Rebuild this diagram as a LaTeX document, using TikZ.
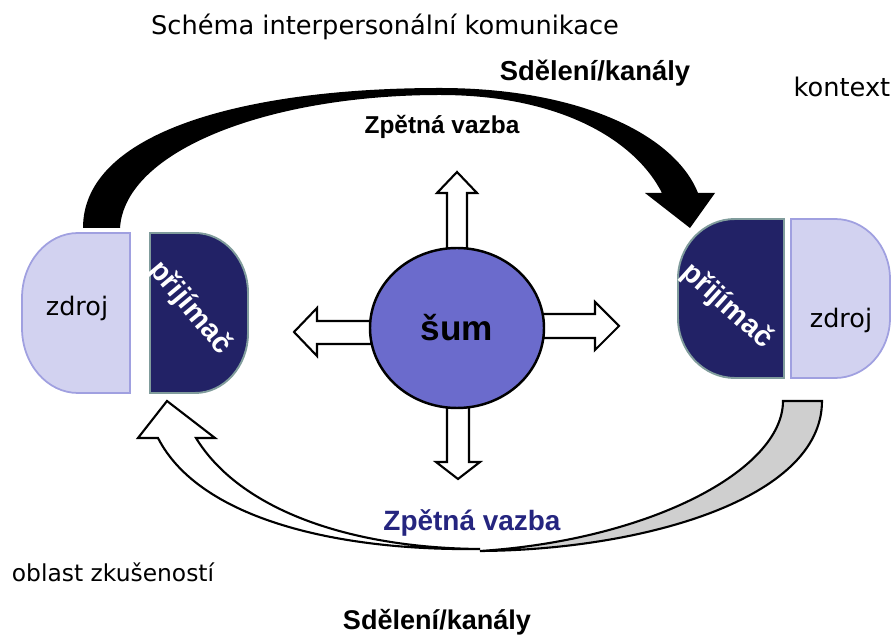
\documentclass[tikz,border=0pt]{standalone}
\usepackage{fontspec}
\setmainfont{DejaVu Sans}
\newfontfamily\boldsans{Liberation Sans}
\usetikzlibrary{shapes}

\definecolor{zdrojfill}{HTML}{D2D2F0}
\definecolor{zdrojline}{HTML}{A0A0E0}
\definecolor{prijfill}{HTML}{222266}
\definecolor{prijline}{HTML}{809C9C}
\definecolor{sumfill}{HTML}{6B6BCC}
\definecolor{vazbablue}{HTML}{25257F}
\definecolor{ribbongray}{HTML}{CFCFCF}

\begin{document}
\begin{tikzpicture}[x=0.2mm,y=-0.2mm,
  zdrojshape/.style={fill=zdrojfill,draw=zdrojline,line width=1pt},
  prijshape/.style={fill=prijfill,draw=prijline,line width=1.1pt},
  zdrojtext/.style={font=\fontsize{14.5}{16}\selectfont},
  prijtext/.style={text=white,font=\boldsans\bfseries\fontsize{16.5}{18}\selectfont},
  lighttext/.style={font=\fontsize{14.6}{16}\selectfont},
  heavytext/.style={font=\boldsans\bfseries\fontsize{15.6}{18}\selectfont},
  blockarrow/.style={draw=black,fill=white,line width=1.2pt},
  ribbon/.style={draw=black,line width=1.2pt},
  sumcircle/.style={shape=ellipse,draw=black,fill=sumfill,line width=1.4pt,minimum width=34.8mm,minimum height=32mm,font=\boldsans\bfseries\fontsize{20}{22}\selectfont}]
\useasboundingbox (0,0) rectangle (894,635);

\coordinate (c) at (457,328);
\coordinate (odL) at (101,228);
\coordinate (doR) at (690,228);
\coordinate (odR) at (802,401);
\coordinate (doL) at (167,401);

\draw[zdrojshape] (130,233) -- (78,233) arc[start angle=90,end angle=180,x radius=11.2mm,y radius=13mm] -- (22,328) arc[start angle=180,end angle=270,x radius=11.2mm,y radius=13mm] -- (130,393) -- cycle;
\draw[prijshape] (150,233) -- (195,233) arc[start angle=90,end angle=0,x radius=10.6mm,y radius=12mm] -- (248,333) arc[start angle=0,end angle=-90,x radius=10.6mm,y radius=12mm] -- (150,393) -- cycle;
\draw[prijshape] (784,219) -- (735,219) arc[start angle=90,end angle=180,x radius=11.4mm,y radius=12mm] -- (678,318) arc[start angle=180,end angle=270,x radius=11.4mm,y radius=12mm] -- (784,378) -- cycle;
\draw[zdrojshape] (791,219) -- (835,219) arc[start angle=90,end angle=0,x radius=11mm,y radius=12mm] -- (890,318) arc[start angle=0,end angle=-90,x radius=11mm,y radius=12mm] -- (791,378) -- cycle;

\node[zdrojtext] (zdrojL) at (77,308) {zdroj};
\node[prijtext,rotate=-50] (prijL) at (190,308) {přijímač};
\node[prijtext,rotate=-42] (prijR) at (727,306) {přijímač};
\node[zdrojtext] (zdrojR) at (841,320) {zdroj};

\draw[blockarrow] ([xshift=-2mm]c) -- ++(0,-135) -- ++(-10,0) -- ++(20,-21) -- ++(20,21) -- ++(-10,0) -- ++(0,135) -- cycle;
\draw[blockarrow] ([xshift=-2mm]c) -- ++(0,134) -- ++(-11,0) -- ++(22,17) -- ++(22,-17) -- ++(-11,0) -- ++(0,-134) -- cycle;
\draw[blockarrow] ([yshift=2.8mm]c) -- ++(138,0) -- ++(0,-12) -- ++(24,24) -- ++(-24,24) -- ++(0,-12) -- ++(-138,0) -- cycle;
\draw[blockarrow] ([yshift=1.4mm]c) -- ++(-140,0) -- ++(0,-13) -- ++(-23,24) -- ++(23,24) -- ++(0,-12) -- ++(140,0) -- cycle;
\node[sumcircle] (sum) at (c) {šum};

\fill[black] ([xshift=-3.6mm]odL) .. controls (83,130) and (250,88) .. (440,88) .. controls (580,88) and (675,135) .. (698,193) -- (715,193) -- (doR) -- (645,193) -- (662,193) .. controls (635,140) and (560,95) .. (440,95) .. controls (270,95) and (125,150) .. ([xshift=3.8mm]odL) -- cycle;

\draw[ribbon,fill=white] (doL) -- (215,438) -- (196,438) .. controls (240,510) and (350,548) .. (480,549) .. controls (340,551) and (200,520) .. (158,438) -- (138,438) -- cycle;
\draw[ribbon,fill=ribbongray] ([xshift=-3.8mm]odR) -- ([xshift=4mm]odR) .. controls (822,500) and (640,550) .. (480,551) .. controls (650,540) and (783,470) .. ([xshift=-3.8mm]odR) -- cycle;

\node[lighttext] (titul) at (385,27) {Schéma interpersonální komunikace};
\node[heavytext] (kanalyT) at (595,73) {Sdělení/kanály};
\node[lighttext] (kontext) at (842,87) {kontext};
\node[heavytext,font=\boldsans\bfseries\fontsize{13.9}{16}\selectfont] (vazbaT) at (442,127) {Zpětná vazba};
\node[heavytext,text=vazbablue,font=\boldsans\bfseries\fontsize{15.9}{18}\selectfont] (vazbaB) at (472,523) {Zpětná vazba};
\node[lighttext,font=\fontsize{13.3}{15}\selectfont] (oblast) at (113,572) {oblast zkušeností};
\node[heavytext,font=\boldsans\bfseries\fontsize{15.4}{18}\selectfont] (kanalyB) at (437,622) {Sdělení/kanály};
\end{tikzpicture}
\end{document}
